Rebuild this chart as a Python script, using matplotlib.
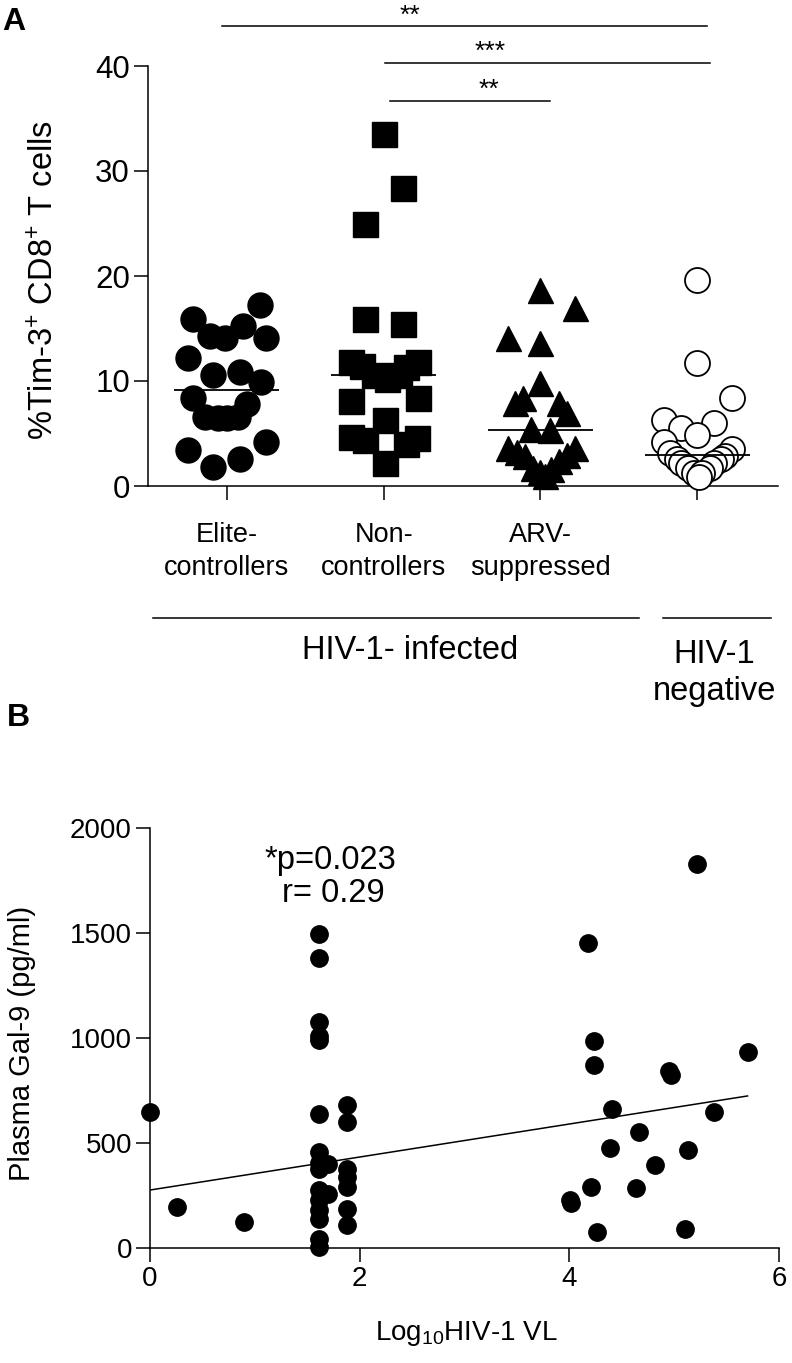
import matplotlib
matplotlib.use("Agg")
import matplotlib.pyplot as plt
import numpy as np

plt.rcParams["font.family"] = ["Liberation Sans", "DejaVu Sans"]
plt.rcParams["mathtext.fontset"] = "custom"
plt.rcParams["mathtext.rm"] = "Liberation Sans"
plt.rcParams["mathtext.it"] = "Liberation Sans:italic"
plt.rcParams["mathtext.bf"] = "Liberation Sans:bold"

# ---- panel A data: %Tim-3+ CD8+ T cells per group, with the horizontal scatter
groups = ["Elite-\ncontrollers", "Non-\ncontrollers", "ARV-\nsuppressed", ""]

elite = [17.2, 15.9, 14.3, 14.1, 15.2, 14.1, 12.2, 10.6, 10.9, 9.9,
         8.4, 7.8, 6.6, 6.5, 6.5, 6.6, 3.4, 1.8, 2.6, 4.2]
elite_dx = [0.21, -0.22, -0.11, -0.01, 0.10, 0.25, -0.25, -0.09, 0.08, 0.22,
            -0.22, 0.13, -0.14, -0.06, 0.0, 0.07, -0.25, -0.09, 0.08, 0.25]

nonctrl = [33.5, 28.4, 25.0, 15.9, 15.4, 11.8, 11.4, 10.6, 10.2, 10.6,
           11.3, 11.8, 8.1, 8.4, 6.3, 4.7, 4.4, 4.6, 4.0, 2.2]
nonctrl_dx = [0.0, 0.12, -0.12, -0.12, 0.12, -0.21, -0.14, -0.06, 0.02, 0.10,
              0.14, 0.22, -0.21, 0.22, 0.01, -0.21, -0.12, 0.21, 0.14, 0.01]

arv = [18.7, 17.0, 14.1, 13.6, 9.8, 7.9, 8.4, 7.9, 7.0, 5.4, 5.3,
       3.65, 3.65, 3.2, 3.0, 2.9, 2.4, 1.7, 1.6, 1.3, 1.0]
arv_dx = [0.0, 0.22, -0.21, 0.0, 0.0, -0.16, -0.11, 0.12, 0.17, -0.06, 0.06,
          -0.21, 0.22, -0.15, 0.17, -0.10, 0.12, -0.05, 0.07, 0.0, 0.03]

hivneg = [19.6, 11.7, 8.4, 6.3, 5.5, 6.0, 4.9, 4.2, 3.5, 3.1,
          2.9, 2.6, 2.6, 2.2, 2.2, 1.7, 1.7, 1.2, 1.2, 0.9]
hivneg_dx = [0.0, 0.0, 0.22, -0.21, -0.10, 0.11, 0.0, -0.21, 0.22, -0.17,
             0.18, -0.13, 0.15, -0.10, 0.11, -0.06, 0.08, -0.02, 0.03, 0.01]

# significance brackets: (x start, x end, y, label, label x)
sig = [(-0.03, 3.06, 43.8, "**", 1.17),
       (1.01, 3.08, 40.3, "***", 1.68),
       (1.04, 2.06, 36.7, "**", 1.67)]

# ---- panel B data: plasma Gal-9 vs log10 viral load
vl = [0.0, 0.26, 0.90,
      1.61, 1.61, 1.61, 1.61, 1.61, 1.61, 1.61, 1.61, 1.61, 1.61, 1.61, 1.61, 1.61, 1.61, 1.61,
      1.70, 1.70,
      1.88, 1.88, 1.88, 1.88, 1.88, 1.88, 1.88,
      5.22, 4.18, 4.24, 4.24, 5.70, 4.95, 4.97, 4.41, 5.38, 4.66,
      4.39, 5.13, 4.82, 4.21, 4.64, 4.02, 4.01, 4.26, 5.10]
gal9 = [649, 197, 125,
        1494, 1383, 1078, 1010, 990, 636, 455, 405, 375, 276, 229, 181, 140, 45, 5,
        400, 255,
        680, 600, 375, 340, 290, 185, 110,
        1827, 1454, 986, 871, 935, 845, 825, 660, 646, 551,
        478, 467, 395, 292, 287, 216, 230, 75, 90]
fit_intercept = 276
fit_slope = 78.6
fit_range = [0.0, 5.7]

W, H = 792, 1363
fig = plt.figure(figsize=(W / 100, H / 100), dpi=100)

# ================= panel A =================
axA = fig.add_axes([148 / W, 1 - 486 / H, 630 / W, 420 / H])
ms = 18
series = [
    (elite, elite_dx, dict(marker="o", color="black", ms=ms, mec="black")),
    (nonctrl, nonctrl_dx, dict(marker="s", color="black", ms=ms, mec="black")),
    (arv, arv_dx, dict(marker="^", color="black", ms=ms, mec="black")),
    (hivneg, hivneg_dx, dict(marker="o", color="black", ms=ms, mfc="white", mec="black", mew=1.3)),
]
for i, (vals, dx, kw) in enumerate(series):
    xs = i + np.array(dx)
    axA.plot(xs, vals, linestyle="none", clip_on=False, zorder=3, **kw)
    axA.hlines(np.median(vals), i - 0.335, i + 0.335, color="black", lw=1.3, zorder=4)

axA.set_xlim(-0.504, 3.516)
axA.set_ylim(0, 40)
axA.set_yticks([0, 10, 20, 30, 40])
axA.set_xticks(range(4))
axA.set_xticklabels(groups, fontsize=19.5, linespacing=1.35)
axA.tick_params(axis="y", length=10, width=1.1, labelsize=22.5, pad=3)
axA.tick_params(axis="x", length=10, width=1.1, pad=16)
axA.spines[["top", "right"]].set_visible(False)
for s in ["left", "bottom"]:
    axA.spines[s].set_linewidth(1.1)

for x0, x1, y, lab, xl in sig:
    axA.plot([x0, x1], [y, y], color="black", lw=1.1, clip_on=False)
    axA.text(xl, y + 0.35, lab, ha="center", va="baseline", fontsize=19, clip_on=False)

# group brackets under the axis
axA.plot([-0.47, 2.63], [-12.6, -12.6], color="black", lw=1.1, clip_on=False)
axA.plot([2.78, 3.47], [-12.6, -12.6], color="black", lw=1.1, clip_on=False)
axA.text(1.17, -15.7, "HIV-1- infected", ha="center", va="center", fontsize=23.5)
axA.text(3.11, -17.8, "HIV-1\nnegative", ha="center", va="center", fontsize=23.5, linespacing=1.25)

fig.text(45 / W, 1 - 280 / H, "%Tim-3$^{+}$ CD8$^{+}$ T cells", rotation=90,
         ha="center", va="center", fontsize=23.5)
fig.text(14 / W, 1 - 22 / H, "A", fontsize=23, fontweight="bold", ha="center", va="center")

# ================= panel B =================
axB = fig.add_axes([150 / W, 1 - 1248 / H, 629 / W, 420 / H])
axB.plot(vl, gal9, linestyle="none", marker="o", color="black", ms=12.5, clip_on=False, zorder=3)
fx = np.array(fit_range)
axB.plot(fx, fit_intercept + fit_slope * fx, color="black", lw=1.1)
axB.set_xlim(0, 6)
axB.set_ylim(0, 2000)
axB.set_xticks([0, 2, 4, 6])
axB.set_yticks([0, 500, 1000, 1500, 2000])
axB.tick_params(axis="both", length=10, width=1.1, labelsize=20, pad=3)
axB.spines[["top", "right"]].set_visible(False)
for s in ["left", "bottom"]:
    axB.spines[s].set_linewidth(1.1)

fig.text(22 / W, 1 - 1043 / H, "Plasma Gal-9 (pg/ml)", rotation=90,
         ha="center", va="center", fontsize=21)
fig.text(466 / W, 1 - 1333 / H, "Log$_{10}$HIV-1 VL", ha="center", va="center", fontsize=20)
fig.text(330 / W, 1 - 860 / H, "*p=0.023", ha="center", va="center", fontsize=23.5)
fig.text(333 / W, 1 - 894 / H, "r= 0.29", ha="center", va="center", fontsize=23.5)
fig.text(18 / W, 1 - 718 / H, "B", fontsize=23, fontweight="bold", ha="center", va="center")

fig.savefig("out.png", dpi=100)
